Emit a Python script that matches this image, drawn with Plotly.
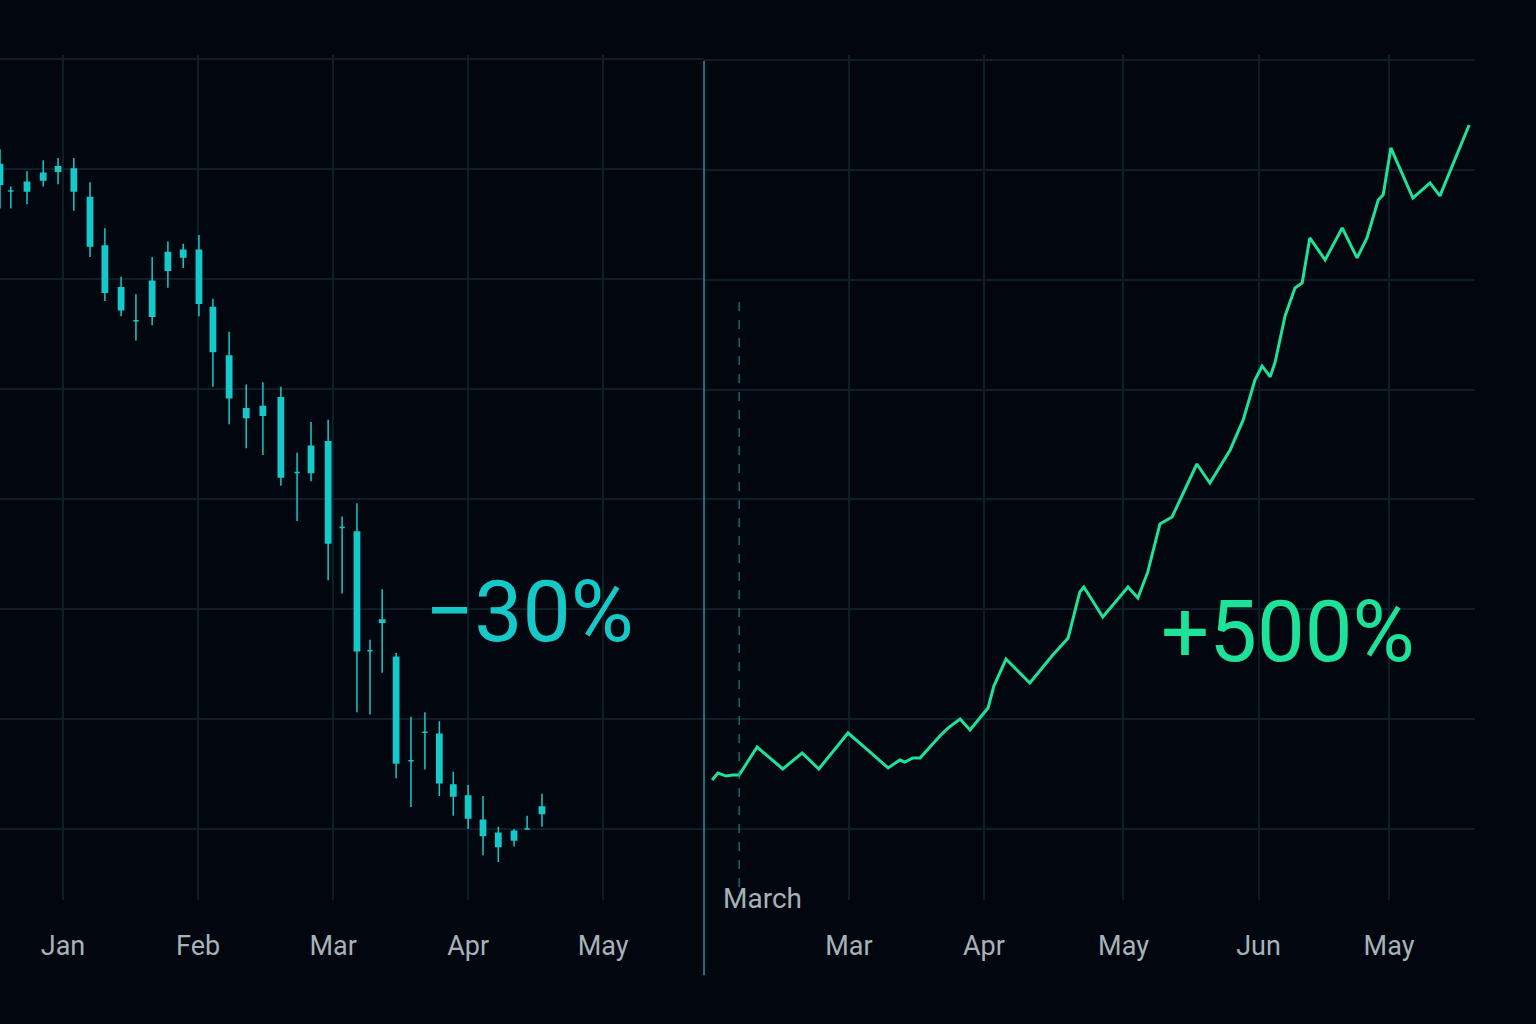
import plotly.graph_objects as go

# --- left panel: candles (day offset from Jan 1, ~30 days per month) ---
c_day = [-14, -11.6, -8, -4.4, -1.1, 2.4, 6, 9.3, 12.9, 16.2, 19.8, 23.3, 26.7, 30.2, 33.3, 36.9,
         40.7, 44.4, 48.4, 52, 55.1, 58.9, 62, 65.3, 68.2, 70.9, 74, 77.3, 80.4, 83.6, 86.7, 90,
         93.3, 96.7, 100.2, 103.1, 106.4]
c_open = [100.2, 99.0, 99.4, 99.8, 100.1, 100.0, 98.7, 96.5, 94.6, 93.1, 93.3, 95.4, 96.3, 96.3, 93.7, 91.5,
          89.1, 89.2, 89.6, 86.2, 86.2, 87.6, 83.7, 83.5, 78.1, 79.5, 77.8, 73.1, 74.4, 74.3, 72.0, 71.5,
          70.4, 69.8, 69.5, 70.0, 70.7]
c_close = [99.3, 99.0, 99.0, 99.5, 99.9, 99.0, 96.5, 94.4, 93.6, 93.1, 94.9, 96.2, 96.0, 93.9, 91.7, 89.6,
           88.7, 88.8, 86.0, 86.2, 87.4, 83.0, 83.7, 78.1, 78.1, 79.4, 73.0, 73.1, 74.4, 72.1, 71.5, 70.5,
           69.7, 69.2, 69.9, 70.0, 71.0]
c_high = [100.9, 99.2, 99.9, 100.4, 100.5, 100.5, 99.4, 97.3, 95.1, 94.3, 96.0, 96.7, 96.6, 97.0, 94.1, 92.6,
          90.2, 90.3, 90.1, 87.1, 88.5, 88.6, 84.2, 84.8, 78.6, 80.9, 78.0, 75.1, 75.3, 74.9, 72.6, 72.0,
          71.5, 70.1, 70.0, 70.6, 71.6]
c_low = [98.2, 98.2, 98.4, 99.2, 99.3, 98.1, 96.0, 94.0, 93.3, 92.2, 92.9, 94.6, 95.5, 93.3, 90.1, 88.4,
         87.3, 87.0, 85.6, 84.0, 85.8, 81.3, 80.7, 75.3, 75.2, 77.1, 72.3, 71.0, 72.7, 71.5, 70.6, 70.0,
         68.8, 68.5, 69.2, 70.0, 70.1]
left_ticks = [0, 30, 60, 90, 120]
left_labels = ["Jan", "Feb", "Mar", "Apr", "May"]

# --- right panel: growth line (day offset from Mar 1) ---
g_day = [-30.4, -29.1, -27.3, -25.8, -24.4, -20.4, -14.7, -10.4, -6.7, -0.2, 4.2, 8.7, 11.3, 12.4, 14.2,
         15.8, 20.2, 22, 24.7, 26.9, 30.9, 32.2, 34.9, 40.2, 45.1, 48.7, 51.3, 52.2, 56.4, 62, 64.2, 66.4,
         69.1, 71.8, 77.3, 80.2, 84.7, 87.6, 90.2, 91.8, 93.6, 94.7, 96.9, 99.1, 100.7, 102.4, 105.8,
         109.6, 112.9, 115.1, 117.6, 118.7, 120.4, 125.3, 129.1, 131.3, 137.8]
g_val = [96.2, 101.5, 99.2, 100, 100, 121.5, 104.6, 116.9, 104.6, 132.3, 119.2, 105.4, 111.5, 110, 113.1,
         113.1, 130, 136.1, 143.1, 134.6, 151.5, 168.4, 189.2, 170.8, 191.5, 205.4, 240.8, 244.6, 221.5,
         244.6, 236.2, 256.2, 293.1, 298.5, 339.2, 324.6, 350, 373.1, 403.8, 414.6, 406.2, 417.7, 453.1,
         474.6, 478.5, 513.1, 496.2, 520.8, 497.7, 513.1, 542.3, 546.2, 582.3, 543.8, 555.4, 545.4, 600]
right_ticks = [0, 30, 61, 91, 120]
right_labels = ["Mar", "Apr", "May", "Jun", "May"]
march_day = -24.4

BG = "#02070f"
GRID = "#0f1e26"
CYAN = "#16c9c9"
GREEN = "#1de39a"
TICK = "#a6b2ba"
SPLIT = 0.4773

fig = go.Figure()
fig.add_trace(go.Candlestick(
    x=c_day, open=c_open, high=c_high, low=c_low, close=c_close,
    increasing=dict(line=dict(color=CYAN, width=1.5), fillcolor=CYAN),
    decreasing=dict(line=dict(color=CYAN, width=1.5), fillcolor=CYAN),
    whiskerwidth=0, xaxis="x", yaxis="y", showlegend=False))
fig.add_trace(go.Scatter(x=g_day, y=g_val, mode="lines", line=dict(color=GREEN, width=3),
                         xaxis="x2", yaxis="y2", showlegend=False))

axis_common = dict(showgrid=True, gridcolor=GRID, gridwidth=1.5, zeroline=False, showline=False,
                   ticks="outside", ticklen=22, tickcolor=BG,
                   tickfont=dict(family="Roboto", size=27, color=TICK))
fig.update_layout(
    paper_bgcolor=BG, plot_bgcolor=BG,
    width=1536, height=1024,
    margin=dict(l=0, r=61, t=55, b=124),
    xaxis=dict(domain=[0, SPLIT], range=[-14, 142.4], tickvals=left_ticks, ticktext=left_labels,
               rangeslider=dict(visible=False), **axis_common),
    yaxis=dict(range=[66.77, 105.18], tick0=70, dtick=5, showticklabels=False, showgrid=True,
               gridcolor=GRID, gridwidth=1.5, zeroline=False),
    xaxis2=dict(domain=[SPLIT, 1], range=[-32.2, 139.1], tickvals=right_ticks, ticktext=right_labels,
                anchor="y2", **axis_common),
    yaxis2=dict(range=[3.85, 653.8], anchor="x2", tick0=58.5, dtick=84.5, showticklabels=False,
                showgrid=True, gridcolor=GRID, gridwidth=1.5, zeroline=False),
)

# divider between the panels
fig.add_shape(type="line", xref="paper", yref="paper", x0=SPLIT, x1=SPLIT, y0=-0.089, y1=0.993,
              line=dict(color="#1a9c9a", width=1.5))
# dashed "March" marker
fig.add_shape(type="line", xref="x2", yref="y2", x0=march_day, x1=march_day, y0=0, y1=465,
              line=dict(color="#1a9c9a", width=1, dash="dash"))
fig.add_annotation(x=march_day, xref="x2", y=0, yref="paper", yanchor="top", xanchor="left",
                   xshift=-18, yshift=20, text="March", showarrow=False,
                   font=dict(family="Roboto", size=28, color=TICK))

fig.add_annotation(x=80, xref="x", y=79.9, yref="y", text="\u221230%", showarrow=False,
                   xanchor="left", font=dict(family="Roboto", size=86, color=CYAN))
fig.add_annotation(x=69, xref="x2", y=210, yref="y2", text="+500%", showarrow=False,
                   xanchor="left", font=dict(family="Roboto", size=85, color=GREEN))

fig.write_html("out.html", config={"displayModeBar": False},
               post_script="document.body.style.margin='0';document.body.style.background='#02070f';")
